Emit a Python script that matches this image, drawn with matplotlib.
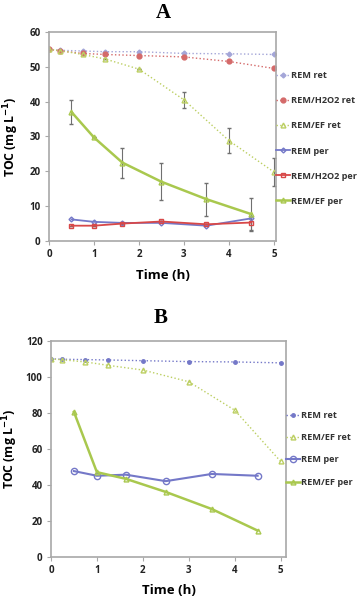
import numpy as np
import matplotlib.pyplot as plt

plt.rcParams['font.family'] = ['Open Sans', 'DejaVu Sans']

# panel A data
tA_ret = [0, 0.25, 0.75, 1.25, 2, 3, 4, 5]
tA_per = [0.5, 1, 1.63, 2.5, 3.5, 4.5]
a_rem_ret = [55, 54.7, 54.5, 54.3, 54.3, 53.8, 53.7, 53.5]
a_h2o2_ret = [55, 54.5, 53.8, 53.5, 53.2, 52.8, 51.5, 49.5]
a_ef_ret = [55, 54.6, 53.5, 52.2, 49.3, 40.5, 28.8, 19.8]
a_ef_ret_err = [0, 0, 0, 0, 0, 2.3, 3.5, 4.0]
a_rem_per = [6.2, 5.5, 5.2, 5.2, 4.4, 6.5]
a_h2o2_per = [4.4, 4.4, 5.0, 5.6, 4.8, 5.3]
a_h2o2_per_err = [0, 0, 0, 0, 0, 2.0]
a_ef_per = [37, 29.7, 22.5, 17, 12, 7.7]
a_ef_per_err = [3.5, 0, 4.3, 5.3, 4.7, 4.7]

# panel B data
tB_ret = [0, 0.25, 0.75, 1.25, 2, 3, 4, 5]
tB_per = [0.5, 1, 1.63, 2.5, 3.5, 4.5]
b_rem_ret = [110, 109.8, 109.6, 109.4, 109, 108.5, 108.3, 107.8]
b_ef_ret = [110, 109.5, 108.3, 106.4, 103.8, 97.3, 81.5, 53]
b_rem_per = [47.6, 45, 45.6, 42, 46, 45]
b_ef_per = [80.5, 47, 43.3, 36, 26.5, 14.5]

c_rem_ret = '#a4a6d8'
c_h2o2_ret = '#d46a6a'
c_ef_ret = '#bccf62'
c_rem_per = '#7478c8'
c_h2o2_per = '#d84848'
c_ef_per = '#a9c84e'
c_err = '#707070'

fig = plt.figure(figsize=(3.64, 5.96), dpi=100)
axA = fig.add_axes([0.1346, 0.5956, 0.624, 0.351])
axB = fig.add_axes([0.140, 0.066, 0.646, 0.362])

ms = 3.5
# error bars drawn separately so the legend shows plain line handles
axA.errorbar(tA_ret, a_ef_ret, yerr=a_ef_ret_err, fmt='none', ecolor=c_err, elinewidth=0.8, capsize=1.2)
axA.errorbar(tA_per, a_h2o2_per, yerr=a_h2o2_per_err, fmt='none', ecolor=c_err, elinewidth=0.8, capsize=1.2)
axA.errorbar(tA_per, a_ef_per, yerr=a_ef_per_err, fmt='none', ecolor=c_err, elinewidth=0.8, capsize=1.2)

axA.plot(tA_ret, a_rem_ret, color=c_rem_ret, ls=':', lw=1, marker='D', ms=2.5, label='REM ret')
axA.plot(tA_ret, a_h2o2_ret, color=c_h2o2_ret, ls=':', lw=1, marker='o', ms=ms, label='REM/H2O2 ret')
axA.plot(tA_ret, a_ef_ret, color=c_ef_ret, ls=':', lw=1, marker='^', ms=ms, mfc='none', label='REM/EF ret')
axA.plot(tA_per, a_rem_per, color=c_rem_per, ls='-', lw=1.3, marker='D', ms=2.5, mfc='none', label='REM per')
axA.plot(tA_per, a_h2o2_per, color=c_h2o2_per, ls='-', lw=1.3, marker='s', ms=ms, mfc='none', label='REM/H2O2 per')
axA.plot(tA_per, a_ef_per, color=c_ef_per, ls='-', lw=1.8, marker='^', ms=ms, mfc='none', label='REM/EF per')

axB.plot(tB_ret, b_rem_ret, color=c_rem_per, ls=':', lw=1, marker='o', ms=2.5, label='REM ret')
axB.plot(tB_ret, b_ef_ret, color=c_ef_ret, ls=':', lw=1, marker='^', ms=ms, mfc='none', label='REM/EF ret')
axB.plot(tB_per, b_rem_per, color=c_rem_per, ls='-', lw=1.5, marker='o', ms=ms + 1, mfc='none', label='REM per')
axB.plot(tB_per, b_ef_per, color=c_ef_per, ls='-', lw=1.8, marker='^', ms=ms, mfc='none', label='REM/EF per')

for ax, ymax, step, xmax, ylx, xly in [(axA, 60, 10, 5.05, -0.125, -0.135),
                                       (axB, 120, 20, 5.12, -0.13, -0.126)]:
    ax.set_xlim(0, xmax)
    ax.set_ylim(0, ymax)
    ax.set_xticks(range(0, 6))
    ax.set_yticks(np.arange(0, ymax + 1, step))
    for s in ax.spines.values():
        s.set_color('#a8a8a8')
        s.set_linewidth(1.2)
    ax.tick_params(colors='#a8a8a8', length=3, labelcolor='#222222', labelsize=7, pad=3)
    for lab in ax.get_xticklabels() + ax.get_yticklabels():
        lab.set_fontweight('bold')
    ax.set_xlabel('Time (h)', fontsize=9.5, fontweight='bold')
    ax.set_ylabel('TOC (mg L$^{\\mathbf{-1}}$)', fontsize=8.8, fontweight='bold')
    ax.yaxis.set_label_coords(ylx, 0.5)
    ax.xaxis.set_label_coords(0.5, xly)

axA.legend(loc='center left', bbox_to_anchor=(1.0, 0.49), frameon=False,
           prop={'weight': 'bold', 'size': 6.6}, handlelength=1.5, handletextpad=0.15, labelspacing=1.75,
           borderaxespad=0, borderpad=0, labelcolor='#333333')
axB.legend(loc='center left', bbox_to_anchor=(1.0, 0.5), frameon=False,
           prop={'weight': 'bold', 'size': 6.6}, handlelength=1.5, handletextpad=0.15, labelspacing=1.45,
           borderaxespad=0, borderpad=0, labelcolor='#333333')

fig.text(0.448, 0.978, 'A', fontsize=15, fontweight='bold', family='Liberation Serif', ha='center', va='center')
fig.text(0.44, 0.467, 'B', fontsize=15, fontweight='bold', family='Liberation Serif', ha='center', va='center')

plt.savefig('out.png', dpi=100)
